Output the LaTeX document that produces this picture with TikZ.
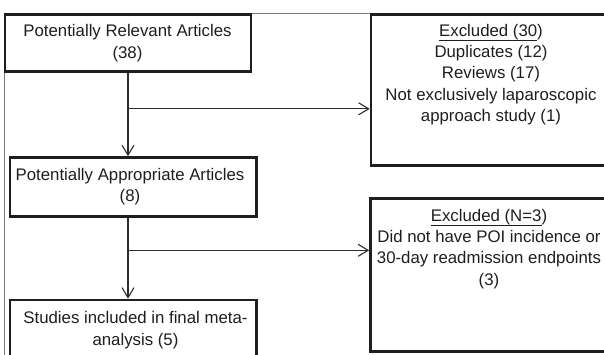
\documentclass[tikz,border=0pt]{standalone}
\usepackage{fontspec}
\setmainfont{Liberation Sans}
\usetikzlibrary{arrows.meta}
\definecolor{ink}{HTML}{1E1E1E}
\definecolor{framegray}{HTML}{7A7A7A}
\definecolor{connink}{HTML}{2E2E2E}
\newcommand\myul[1]{\setbox0\hbox{#1}\rlap{\rule[-5pt]{\wd0}{1.3pt}}\box0}
\begin{document}
\begin{tikzpicture}[x=1pt,y=-1pt,
  boxstyle/.style={draw=ink, line width=2.6pt, rectangle, inner sep=0pt},
  txt/.style={anchor=north, inner sep=0pt, align=center, text=ink,
    font=\fontsize{16.8}{21.3}\selectfont},
  conn/.style={draw=connink, line width=1.1pt,
    -{Straight Barb[length=10pt,width=12pt,line width=1.1pt]}},
  plain/.style={draw=connink, line width=1.1pt}]
\useasboundingbox (0,0) rectangle (604,355);
\clip (0,0) rectangle (604,355);
% outer frame
\draw[framegray, line width=1pt] (4,13.5) rectangle (660,420);
% boxes
\node[boxstyle, minimum width=246pt, minimum height=57pt] (b1) at (128,43) {};
\node[boxstyle, minimum width=246.5pt, minimum height=59pt] (b2) at (133.25,187) {};
\node[boxstyle, minimum width=246.5pt, minimum height=100pt] (b3) at (133.25,350) {};
\node[boxstyle, minimum width=269pt, minimum height=151pt] (e1) at (505.5,90) {};
\node[boxstyle, minimum width=269.5pt, minimum height=153pt] (e2) at (505.25,275) {};
% texts
\node[txt] (t1) at (127.5,21.6) {\strut Potentially Relevant Articles\\(38)};
\node[txt] (t2) at (130,165.3) {\strut Potentially Appropriate Articles\\(8)};
\node[txt] (t3) at (135.5,308.6) {\strut Studies included in final meta-\\analysis (5)};
\node[txt] (te1) at (491,21) {\strut \myul{Excluded (30}) \\ Duplicates (12)\\Reviews (17)\\Not exclusively laparoscopic\\approach study (1)};
\node[txt] (te2) at (489,206) {\strut \myul{Excluded (N=3}) \\ Did not have POI incidence or\\30-day readmission endpoints\\(3)};
% connectors
\path (b1.south) ++(0,36) coordinate (j1);
\path (b1.south |- b2.south) ++(0,32.5) coordinate (j2);
\draw[conn] (b1.south) -- (b1.south |- b2.north);
\draw[conn] (j1) -- (j1 -| e1.west);
\draw[conn] (b1.south |- b2.south) -- (b1.south |- b3.north);
\draw[conn] (j2) -- (j2 -| e2.west);
\end{tikzpicture}
\end{document}
